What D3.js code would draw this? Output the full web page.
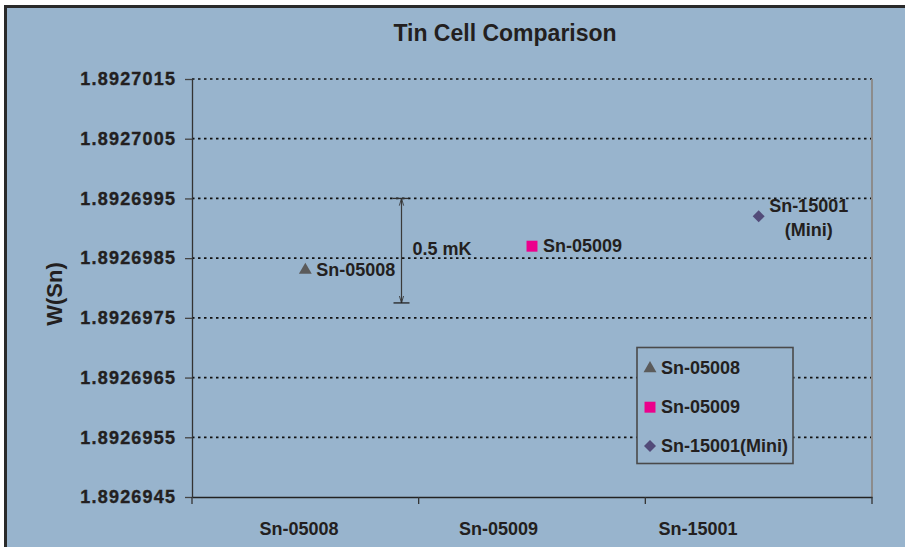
<!DOCTYPE html>
<html><head><meta charset="utf-8">
<script src="https://cdn.jsdelivr.net/npm/d3@7"></script>
<style>
html,body{margin:0;padding:0;background:#fff;}
svg{display:block;font-family:"Liberation Sans",Arial,Helvetica,sans-serif;}
</style></head>
<body><svg id="c" width="905" height="547"></svg>
<script>
// ---- data ----
const categories = ["Sn-05008", "Sn-05009", "Sn-15001"];
const seriesNames = ["Sn-05008", "Sn-05009", "Sn-15001(Mini)"];
const pointLabels = [["Sn-05008"], ["Sn-05009"], ["Sn-15001", "(Mini)"]];
const values = [1.8926983, 1.8926987, 1.8926992];
const yTicks = [1.8926945, 1.8926955, 1.8926965, 1.8926975, 1.8926985, 1.8926995, 1.8927005, 1.8927015];
const annotationRange = [1.89269775, 1.8926995];
const annotationText = "0.5 mK";
const title = "Tin Cell Comparison";
const yTitle = "W(Sn)";

// ---- style/layout ----
const colors = ["#5b5b5b", "#ec008c", "#524b79"];
const symbols = [d3.symbolTriangle, d3.symbolSquare, d3.symbolSquare];
const symSizes = [72, 120, 72];
const symRot = [0, 0, 45];
const bg = "#98b4cd", ink = "#231f20";
const m = {left: 192, right: 872, top: 79, bottom: 497};

const svg = d3.select("#c");
svg.append("rect").attr("x", 5.5).attr("y", 6.5).attr("width", 1000).attr("height", 1000)
  .attr("fill", bg).attr("stroke", "#2a2a2a").attr("stroke-width", 3);

const x = d3.scaleBand().domain(categories).range([m.left, m.right]).padding(0);
const y = d3.scaleLinear().domain([yTicks[0], yTicks[yTicks.length - 1]]).range([m.bottom, m.top]);
const xLab = d3.scalePoint().domain(categories).range([m.left + 107, m.left + 506]);

// title
svg.append("text").attr("x", 505).attr("y", 41).attr("text-anchor", "middle")
  .attr("font-size", 23).attr("font-weight", "bold").attr("fill", ink).text(title);

// grid
svg.append("g").selectAll("line").data(yTicks.slice(1)).join("line")
  .attr("x1", m.left).attr("x2", m.right).attr("y1", d => y(d)).attr("y2", d => y(d))
  .attr("stroke", "#111").attr("stroke-width", 1.7).attr("stroke-dasharray", "2.5,3.5");

// right border of plot
svg.append("line").attr("x1", m.right).attr("x2", m.right).attr("y1", m.top).attr("y2", m.bottom)
  .attr("stroke", "#8c8c8c").attr("stroke-width", 2);

// y axis
const ya = svg.append("g").attr("transform", `translate(${m.left},0)`)
  .call(d3.axisLeft(y).tickValues(yTicks).tickFormat(d3.format(".7f")).tickSize(7).tickPadding(10).tickSizeOuter(0));
ya.select(".domain").attr("stroke", "#333").attr("stroke-width", 1.3);
ya.selectAll(".tick line").attr("stroke", "#444").attr("stroke-width", 1.3);
ya.selectAll(".tick text").attr("font-size", 18).attr("font-weight", "bold").attr("fill", ink)
  .attr("font-family", "Liberation Sans, Arial, sans-serif").attr("letter-spacing", "1.2px").attr("dx", "1.2px")
  .attr("stroke", ink).attr("stroke-width", 0.35);

// x axis
const xa = svg.append("g").attr("transform", `translate(0,${m.bottom})`)
  .call(d3.axisBottom(x).tickValues([]).tickSizeOuter(0));
xa.select(".domain").attr("stroke", "#222").attr("stroke-width", 1.6);
const xt = categories.map(c => x(c)).concat([m.right]);
xa.selectAll(".xt").data(xt).join("line").attr("class", "xt")
  .attr("x1", d => d).attr("x2", d => d).attr("y1", 0).attr("y2", 7)
  .attr("stroke", "#333").attr("stroke-width", 1.3);
svg.append("g").selectAll("text").data(categories).join("text")
  .attr("x", d => xLab(d)).attr("y", 535).attr("text-anchor", "middle")
  .attr("font-size", 18).attr("font-weight", "bold").attr("fill", ink).text(d => d);

// y title
svg.append("text").attr("transform", `translate(62,${(m.top + m.bottom) / 2 + 6}) rotate(-90)`)
  .attr("text-anchor", "middle").attr("font-size", 22).attr("font-weight", "bold").attr("fill", ink).text(yTitle);

// annotation arrow
const ax = 401.5;
const defs = svg.append("defs");
defs.append("marker").attr("id", "ah").attr("viewBox", "0 0 10 10").attr("refX", 10).attr("refY", 5)
  .attr("markerWidth", 6).attr("markerHeight", 6).attr("orient", "auto-start-reverse")
  .append("path").attr("d", "M0,2 L10,5 L0,8").attr("fill", "none").attr("stroke", "#333").attr("stroke-width", 1.2);
svg.append("line").attr("x1", ax).attr("x2", ax).attr("y1", y(annotationRange[1])).attr("y2", y(annotationRange[0]))
  .attr("stroke", "#3a3a3a").attr("stroke-width", 1.2)
  .attr("marker-start", "url(#ah)").attr("marker-end", "url(#ah)");
svg.append("line").attr("x1", ax - 9).attr("x2", ax + 7).attr("y1", y(annotationRange[1])).attr("y2", y(annotationRange[1]))
  .attr("stroke", "#333").attr("stroke-width", 1.3);
svg.append("line").attr("x1", ax - 8).attr("x2", ax + 8).attr("y1", y(annotationRange[0])).attr("y2", y(annotationRange[0]))
  .attr("stroke", "#222").attr("stroke-width", 1.3);
svg.append("text").attr("x", ax + 11).attr("y", 254.5).attr("font-size", 18).attr("font-weight", "bold")
  .attr("fill", ink).text(annotationText);

// points
const pts = svg.append("g");
values.forEach((v, i) => {
  const cx = x(categories[i]) + x.bandwidth() / 2, cy = y(v);
  pts.append("path").attr("d", d3.symbol(symbols[i], symSizes[i])())
    .attr("transform", `translate(${cx},${cy}) rotate(${symRot[i]})`).attr("fill", colors[i]);
  const lines = pointLabels[i];
  if (lines.length === 1) {
    pts.append("text").attr("x", cx + 11).attr("y", cy).attr("dy", "0.33em")
      .attr("font-size", 18).attr("font-weight", "bold").attr("fill", ink).text(lines[0]);
  } else {
    lines.forEach((t, j) => {
      pts.append("text").attr("x", cx + 50).attr("y", cy - 4.5 + j * 23.7).attr("text-anchor", "middle")
        .attr("font-size", 18).attr("font-weight", "bold").attr("fill", ink).text(t);
    });
  }
});

// legend
const lg = svg.append("g").attr("transform", "translate(637,347.5)");
lg.append("rect").attr("width", 156).attr("height", 116).attr("fill", bg)
  .attr("stroke", "#4a4a4a").attr("stroke-width", 1.6);
seriesNames.forEach((s, i) => {
  const cy = 21 + i * 38.7;
  lg.append("path").attr("d", d3.symbol(symbols[i], symSizes[i])())
    .attr("transform", `translate(13,${cy}) rotate(${symRot[i]})`).attr("fill", colors[i]);
  lg.append("text").attr("x", 24).attr("y", cy).attr("dy", "0.33em").attr("font-size", 18)
    .attr("font-weight", "bold").attr("fill", ink).text(s);
});
</script></body></html>
